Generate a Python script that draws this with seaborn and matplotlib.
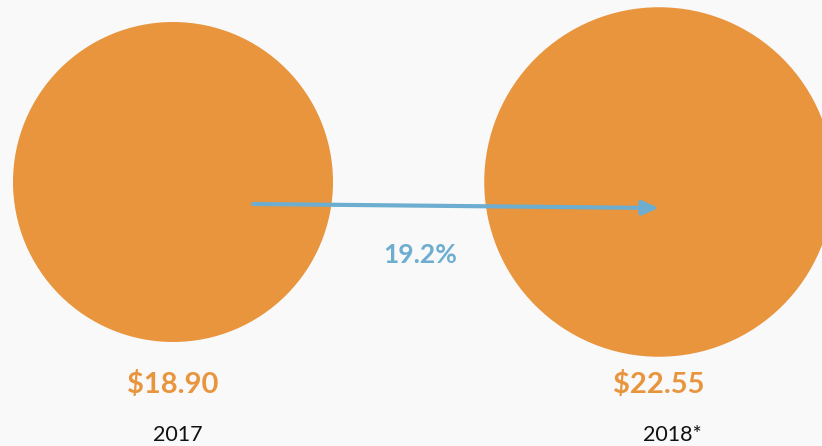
import numpy as np
import pandas as pd
import matplotlib
matplotlib.use("Agg")
import matplotlib.pyplot as plt
import seaborn as sns

years = ["2017", "2018*"]
values = [18.90, 22.55]
value_labels = ["$18.90", "$22.55"]
growth_label = "19.2%"

ORANGE = "#E8953E"
BLUE = "#6DAED0"
BG = "#F9F9F9"

sns.set_theme(style="white")
plt.rcParams["font.family"] = ["Lato", "DejaVu Sans"]

W, H, DPI = 822, 446, 100
fig = plt.figure(figsize=(W / DPI, H / DPI), dpi=DPI, facecolor=BG)
ax = fig.add_axes([0, 0, 1, 1])
ax.set_facecolor(BG)

# layout positions (pixels)
x0, dx, cy = 173, 486, 182
k = 160 / np.sqrt(values[0])  # radius scale: area proportional to value
radii_px = [k * np.sqrt(v) for v in values]
sizes_pt2 = [(2 * r * 72 / DPI) ** 2 for r in radii_px]

df = pd.DataFrame({
    "year": years,
    "value": values,
    "x": [x0 + i * dx for i in range(len(years))],
    "y": [cy] * len(years),
})
sns.scatterplot(data=df, x="x", y="y", size="value",
                sizes=dict(zip(values, sizes_pt2)),
                color=ORANGE, edgecolor="none", linewidth=0,
                legend=False, ax=ax, zorder=1)
ax.set_xlim(0, W)
ax.set_ylim(H, 0)
ax.axis("off")

# arrow
ax.annotate("", xy=(659, 208), xytext=(253, 204),
            arrowprops=dict(arrowstyle="-|>,head_length=0.8,head_width=0.35",
                            color=BLUE, lw=3, shrinkA=0, shrinkB=0),
            zorder=3)
ax.text(420, 255, growth_label, color=BLUE, fontsize=19, fontweight="bold",
        ha="center", va="center")

for i, (yr, lab) in enumerate(zip(years, value_labels)):
    x = x0 + i * dx
    ax.text(x, 384, lab, color=ORANGE, fontsize=21, fontweight="bold",
            ha="center", va="center")
    ax.text(x + 5 + i * 8, 435, yr, color="#111111", fontsize=15.5,
            ha="center", va="center")

fig.savefig("out.png", dpi=DPI, facecolor=BG)
